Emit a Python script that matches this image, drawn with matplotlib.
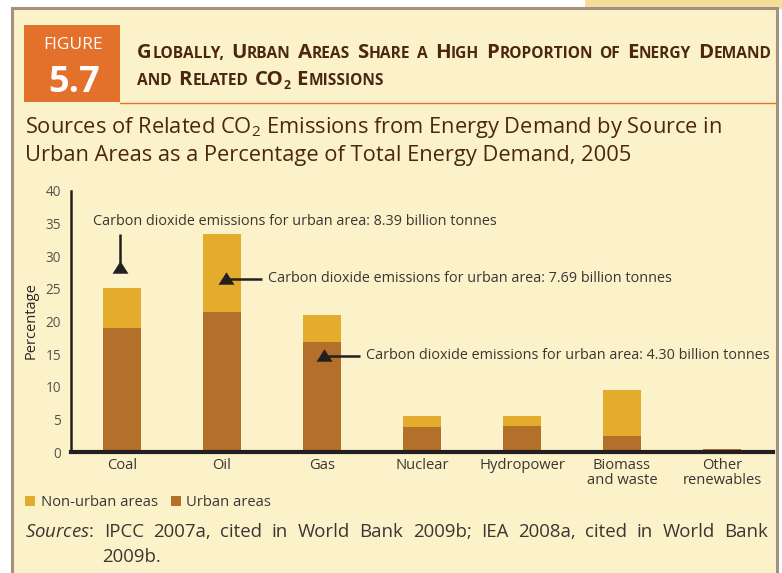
import matplotlib
matplotlib.use("Agg")
import matplotlib.pyplot as plt
from matplotlib.patches import Rectangle
import numpy as np

# ---------------- data ----------------
categories = ["Coal", "Oil", "Gas", "Nuclear", "Hydropower", "Biomass\nand waste", "Other\nrenewables"]
urban = [19.0, 21.5, 16.9, 3.8, 4.0, 2.5, 0.45]
non_urban = [6.1, 11.9, 4.1, 1.7, 1.5, 7.0, 0.0]
yticks = [0, 5, 10, 15, 20, 25, 30, 35, 40]
series_labels = ["Non-urban areas", "Urban areas"]
annotations = [
    "Carbon dioxide emissions for urban area: 8.39 billion tonnes",
    "Carbon dioxide emissions for urban area: 7.69 billion tonnes",
    "Carbon dioxide emissions for urban area: 4.30 billion tonnes",
]

# ---------------- style ----------------
W, H = 782, 573
BG = "#FCF2CA"
FRAME = "#A58F80"
ORANGE = "#E3712B"
TITLE_C = "#4B2711"
TEXT_C = "#3A3532"
URBAN_C = "#B4702A"
NONURBAN_C = "#E3AC2C"
FONT = "Open Sans"
FAMS = [FONT, "DejaVu Sans"]

plt.rcParams["font.family"] = FAMS
plt.rcParams["mathtext.fontset"] = "custom"
plt.rcParams["mathtext.rm"] = FONT
plt.rcParams["mathtext.it"] = FONT + ":italic"
plt.rcParams["mathtext.bf"] = FONT + ":bold"

fig = plt.figure(figsize=(W / 100, H / 100), dpi=100)
fig.patch.set_facecolor("white")


def fx(x):
    return x / W


def fy(y):
    return 1 - y / H


renderer = fig.canvas.get_renderer()


def text_width(s, size, **kw):
    t = fig.text(0, 0, s, fontsize=size, **kw)
    w = t.get_window_extent(renderer).width
    t.remove()
    return w


def fit_size(s, size0, target, **kw):
    size = size0
    for _ in range(3):
        size = size * target / text_width(s, size, **kw)
    return size


def small_caps_runs(text, big, small):
    runs = []
    for ch in text:
        if ch == " ":
            runs.append((" ", big, 0))
            continue
        if ch == "\u2082":
            runs.append(("2", small * 0.8, 4))
            continue
        size = small if (ch.islower() or ch in ",.") else big
        if runs and runs[-1][0] != " " and runs[-1][1] == size and runs[-1][2] == 0:
            runs[-1] = (runs[-1][0] + ch.upper(), size, 0)
        else:
            runs.append((ch.upper(), size, 0))
    return runs


def draw_small_caps(text, x, y, big, small, color, draw=True):
    cur = x
    made = []
    runs = small_caps_runs(text, big, small)
    for txt, size, dy in runs:
        if txt == " ":
            cur += 0.3 * big * 100 / 72
            continue
        if dy:
            cur -= 1.0
        t = fig.text(fx(cur), fy(y + dy), txt, fontsize=size, fontweight="bold", color=color,
                     ha="left", va="baseline", zorder=6)
        cur += t.get_window_extent(renderer).width + (0.0 if dy else 0.6)
        made.append(t)
    if not draw:
        for t in made:
            t.remove()
    return cur - x


# background decorations
fig.patches.append(Rectangle((fx(585), fy(9)), fx(W - 585), 9 / H, transform=fig.transFigure,
                             facecolor="#F5DE9B", edgecolor="none", zorder=0))
fig.patches.append(Rectangle((fx(12), fy(H + 5)), fx(765), (H + 5 - 8) / H, transform=fig.transFigure,
                             facecolor=BG, edgecolor=FRAME, linewidth=2.2, zorder=0.5))
# figure number box
fig.patches.append(Rectangle((fx(24), fy(102)), fx(96), 77 / H, transform=fig.transFigure,
                             facecolor=ORANGE, edgecolor="none", zorder=1))
fig.lines.append(plt.Line2D([fx(120), fx(776)], [fy(102.5), fy(102.5)], transform=fig.transFigure,
                            color=ORANGE, linewidth=1.0, zorder=1))
fig.text(fx(73.5), fy(49), "FIGURE", color="white", fontsize=12.5, ha="center", va="baseline", zorder=6)
fig.text(fx(74.5), fy(92.5), "5.7", color="white", fontsize=26, fontweight="bold", ha="center",
         va="baseline", zorder=6)

# header (small caps), sized to span the reference width
H1 = "Globally, Urban Areas Share a High Proportion of Energy Demand"
H2 = "and Related CO\u2082 Emissions"
big, small = 13.0, 9.9
for _ in range(3):
    wd = draw_small_caps(H1, 137, 57.5, big, small, TITLE_C, draw=False)
    big *= (772 - 137) / wd
    small *= (772 - 137) / wd
draw_small_caps(H1, 137, 57.5, big, small, TITLE_C)
draw_small_caps(H2, 137, 85, big, small, TITLE_C)

# chart title
T1 = r"Sources of Related CO$_2$ Emissions from Energy Demand by Source in"
T2 = "Urban Areas as a Percentage of Total Energy Demand, 2005"
tsize = fit_size(T1, 14.5, 723 - 25)
fig.text(fx(25), fy(133), T1, fontsize=tsize, color=TITLE_C, ha="left", va="baseline", zorder=6)
fig.text(fx(25), fy(161.5), T2, fontsize=tsize, color=TITLE_C, ha="left", va="baseline", zorder=6)

# ---------------- axes ----------------
ax = fig.add_axes([fx(71), fy(452), fx(773 - 71), (452 - 191) / H])
ax.set_zorder(3)
ax.set_facecolor("none")
x = np.arange(len(categories))
ax.bar(x, urban, width=0.38, color=URBAN_C, zorder=2, label=series_labels[1])
ax.bar(x, non_urban, width=0.38, bottom=urban, color=NONURBAN_C, zorder=2, label=series_labels[0])
ax.set_xlim(-0.51, 6.51)
ax.set_ylim(0, 40)
ax.set_yticks(yticks)
ax.set_yticklabels([str(v) for v in yticks], fontsize=9.8, color="#55504C")
ax.set_xticks(x)
ax.set_xticklabels(categories, fontsize=10.6, color=TEXT_C, linespacing=1.0)
ax.tick_params(axis="both", length=0)
ax.tick_params(axis="y", pad=7)
ax.tick_params(axis="x", pad=4)
for s in ["top", "right"]:
    ax.spines[s].set_visible(False)
ax.spines["left"].set_linewidth(1.8)
ax.spines["left"].set_color("#231F20")
ax.spines["bottom"].set_linewidth(3.0)
ax.spines["bottom"].set_color("#231F20")
ax.spines["bottom"].set_zorder(3)
fig.text(fx(31), fy(321), "Percentage", rotation=90, fontsize=10.5, color="#2A2523",
         ha="center", va="center", zorder=6)

# annotation callouts: a line ending in a solid triangle
CALL = "#231F20"
ANN_FS = 10.4
TRI = [(-1, -0.78), (1, -0.78), (0, 0.78)]
mk = dict(marker=TRI, ms=11.5, color=CALL, markeredgewidth=0, zorder=4, linestyle="none")
# coal
ax.plot([-0.02, -0.02], [33.4, 28.9], color=CALL, lw=1.8, zorder=4, solid_capstyle="butt")
ax.plot([-0.02], [28.3], **mk)
ax.text(-0.29, 35.4, annotations[0], fontsize=ANN_FS, color=TEXT_C, ha="left", va="center")
# oil
ax.plot([1.07, 1.40], [26.5, 26.5], color=CALL, lw=1.8, zorder=4, solid_capstyle="butt")
ax.plot([1.04], [26.6], **mk)
ax.text(1.46, 26.6, annotations[1], fontsize=ANN_FS, color=TEXT_C, ha="left", va="center")
# gas
ax.plot([2.05, 2.38], [14.7, 14.7], color=CALL, lw=1.8, zorder=4, solid_capstyle="butt")
ax.plot([2.02], [14.8], **mk)
ax.text(2.44, 14.8, annotations[2], fontsize=ANN_FS, color=TEXT_C, ha="left", va="center")

# legend
for (sx, tx), lab, col in zip([(25, 41), (171, 186)], series_labels, [NONURBAN_C, URBAN_C]):
    fig.patches.append(Rectangle((fx(sx), fy(506)), fx(10), 10 / H, transform=fig.transFigure,
                                 facecolor=col, edgecolor="none", zorder=2))
    fig.text(fx(tx), fy(505.5), lab, fontsize=10.6, color=TEXT_C, ha="left", va="baseline", zorder=6)

# sources (justified line)
SRC_FS = 13.4
src_words = "IPCC 2007a, cited in World Bank 2009b; IEA 2008a, cited in World Bank".split(" ")
t0 = fig.text(fx(25), fy(537), r"$\mathit{Sources}$:", fontsize=SRC_FS, color=TEXT_C,
              ha="left", va="baseline", zorder=6)
cur = 25 + t0.get_window_extent(renderer).width
word_w = [text_width(w, SRC_FS) for w in src_words]
gap = (768 - cur - sum(word_w)) / len(src_words)
for w, ww in zip(src_words, word_w):
    cur += gap
    fig.text(fx(cur), fy(537), w, fontsize=SRC_FS, color=TEXT_C, ha="left", va="baseline", zorder=6)
    cur += ww
fig.text(fx(102), fy(561.5), "2009b.", fontsize=SRC_FS, color=TEXT_C, ha="left", va="baseline", zorder=6)

fig.savefig("out.png", dpi=100, facecolor=fig.get_facecolor())
